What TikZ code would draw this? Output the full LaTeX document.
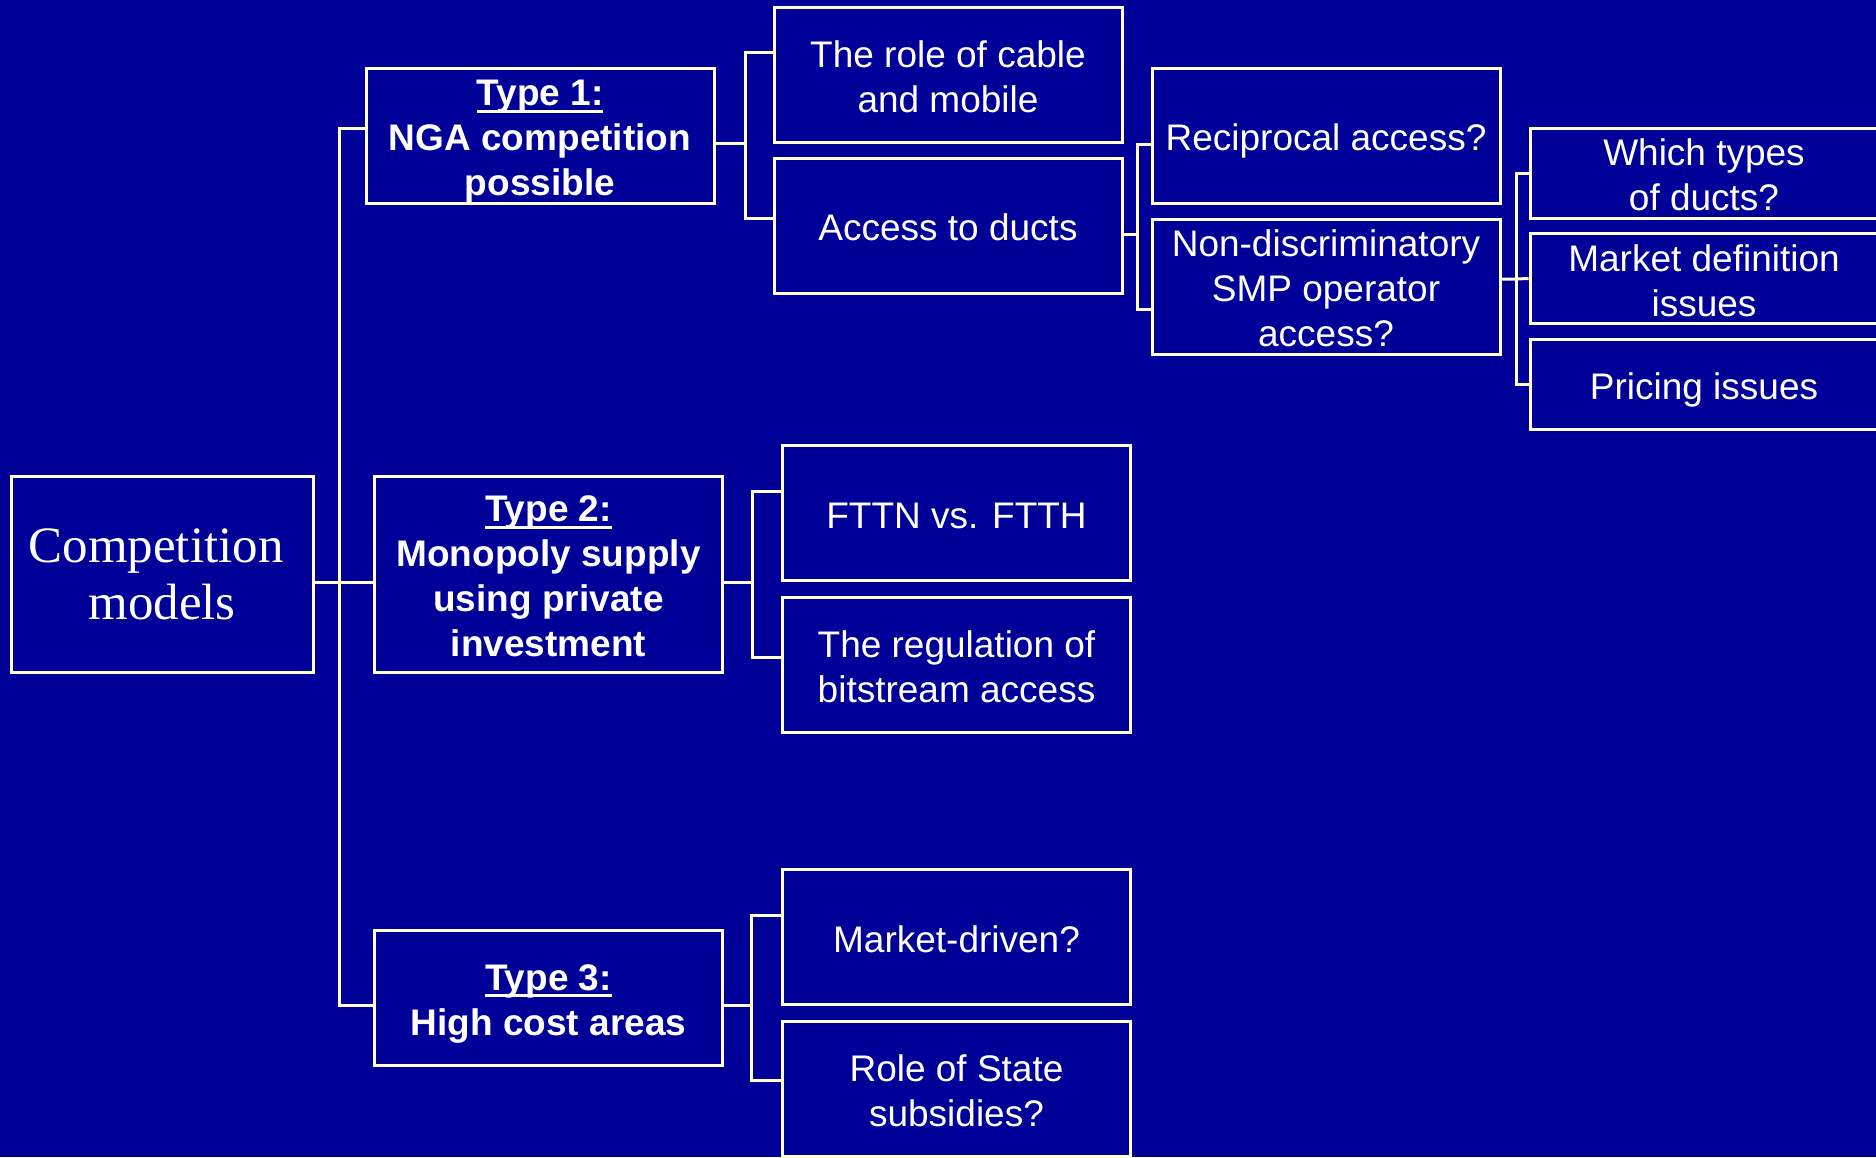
\documentclass[tikz,border=0pt]{standalone}
\usepackage{fontspec}
\setmainfont{Liberation Sans}
\newfontfamily\serifface{Liberation Serif}
\usepackage{tikz}
\definecolor{slide}{RGB}{0,0,153}
\definecolor{frame}{RGB}{255,255,210}
\newcommand{\ulbar}[1]{\setbox0=\hbox{#1}\rlap{\rule[-7pt]{\wd0}{3pt}}\box0}

\begin{document}
\begin{tikzpicture} [x = 1pt, y = -1pt,
    plainbox/.style = {draw = frame, line width = 3pt, text = white, align = center,
      inner sep = 0pt, minimum width = 348pt, minimum height = 135pt,
      font = \fontsize{37}{45}\selectfont},
    box/.style = {plainbox, text height = 37pt, text depth = 7pt},
    twoline/.style = {text height = 82pt},
    threeline/.style = {text height = 127pt},
    fourline/.style = {text height = 172pt},
    small/.style = {box, minimum height = 90pt},
    bold/.style = {font = \bfseries\fontsize{37}{45}\selectfont},
    link/.style = {draw = frame, line width = 3pt}]
    \fill[slide] (0,0) rectangle (1876,1157);
    \useasboundingbox (0,0) rectangle (1876,1157);
    % root and the three types
    \node[plainbox, minimum width = 302pt, minimum height = 196pt,
      font = \serifface\fontsize{51}{57}\selectfont] (cm) at (162,574.5) {Competition\hspace*{12pt}\\models};
    \node[box, bold, threeline] (t1) at (540,135.5)
      {\ulbar{Type 1:}\\NGA competition\\possible};
    \node[box, bold, fourline, minimum height = 196pt] (t2) at (548.5,574)
      {\ulbar{Type 2:}\\Monopoly supply\\using private\\investment};
    \node[box, bold, twoline] (t3) at (548.5,997.5)
      {\ulbar{Type 3:}\\High cost areas};
    % second column
    \node[box, twoline] (cable) at (948,74.5) {The role of cable\\and mobile};
    \node[box] (ducts) at (948,225.5) {Access to ducts};
    \node[box] (fttn) at (956.5,513) {FTTN vs. FTTH};
    \node[box, twoline] (bitstream) at (956.5,664.5) {The regulation of\\bitstream access};
    \node[box] (mdriven) at (956.5,937) {Market-driven?};
    \node[box, twoline] (state) at (956.5,1088.5) {Role of State\\subsidies?};
    % third column
    \node[box] (recip) at (1326,135.5) {Reciprocal access?};
    \node[box, threeline] (nondisc) at (1326,286.5) {Non-discriminatory\\SMP operator\\access?};
    % fourth column
    \node[small, twoline] (which) at (1704,173) {Which types\\of ducts?};
    \node[small, twoline] (mdef) at (1704,278.5) {Market definition\\issues};
    \node[small] (pricing) at (1704,384.5) {Pricing issues};
    % junctions
    \coordinate (j0) at (339,582);
    \coordinate (j1) at (745,143);
    \coordinate (j2) at (1137,234);
    \coordinate (j3) at (1516,279);
    \coordinate (j4) at (752,582);
    \coordinate (j5) at (751,1005);
    % connectors
    \draw[link] ([yshift = -7.5pt]cm.east) -- ([yshift = -8pt]t2.west);
    \draw[link] ([yshift = 7.5pt]t1.west) -| (j0) |- ([yshift = -7.5pt]t3.west);
    \draw[link] ([yshift = -7.5pt]t1.east) -- (j1);
    \draw[link] ([yshift = 22.5pt]cable.west) -| (j1) |- ([yshift = 7.5pt]ducts.west);
    \draw[link] ([yshift = -8.5pt]ducts.east) -- (j2);
    \draw[link] ([yshift = -8.5pt]recip.west) -| (j2) |- ([yshift = -22.5pt]nondisc.west);
    \draw[link] ([yshift = 7.5pt]nondisc.east) -- (j3) -- (mdef.west);
    \draw[link] (which.west) -| (j3) |- (pricing.west);
    \draw[link] ([yshift = -8pt]t2.east) -- (j4);
    \draw[link] ([yshift = 22pt]fttn.west) -| (j4) |- ([yshift = 7.5pt]bitstream.west);
    \draw[link] ([yshift = -7.5pt]t3.east) -- (j5);
    \draw[link] ([yshift = 22pt]mdriven.west) -| (j5) |- ([yshift = 8.5pt]state.west);
  \end{tikzpicture}
\end{document}
